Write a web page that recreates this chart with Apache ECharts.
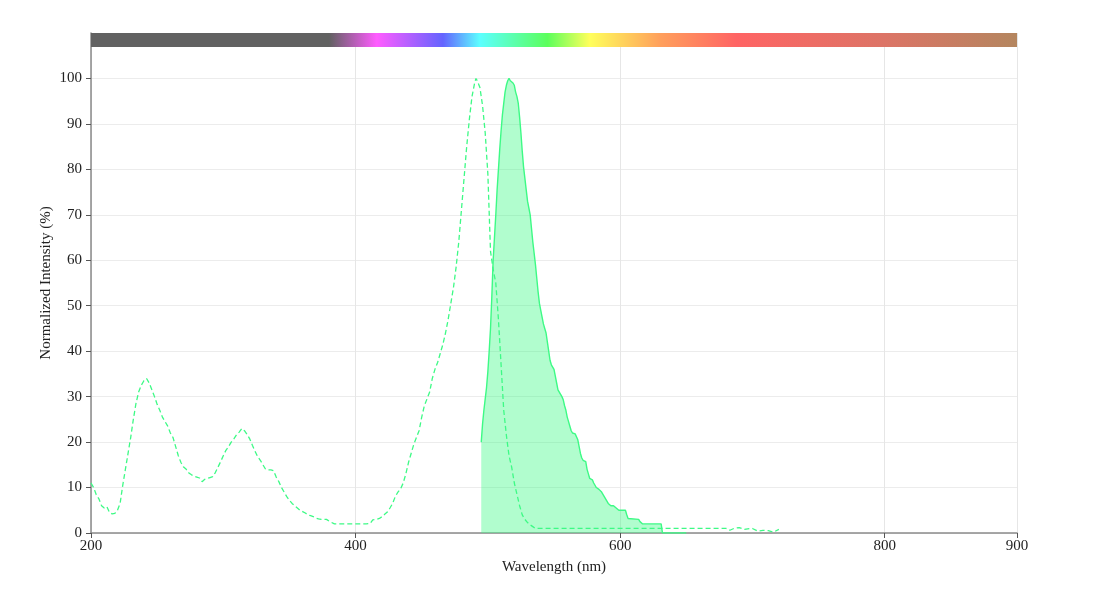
<!DOCTYPE html>
<html>
<head>
<meta charset="utf-8">
<script src="https://cdn.jsdelivr.net/npm/echarts@6/dist/echarts.min.js"></script>
<style>
  html, body { margin: 0; padding: 0; background: #fff; }
  #chart { width: 1106px; height: 597px; }
</style>
</head>
<body>
<div id="chart"></div>
<script>
// ---- Data ----
const xTickLabels = [200, 400, 600, 800, 900];
const yTickValues = [0, 10, 20, 30, 40, 50, 60, 70, 80, 90, 100];

// Excitation spectrum (dashed)
const excitationNm = [200,202,204,206,208,210,212,214,216,218,220,222,224,226,228,230,232,234,236,238,240,242,244,246,248,250,252,254,256,258,260,262,264,266,268,270,272,274,276,278,280,282,284,286,288,290,292,294,296,298,300,302,304,306,308,310,312,314,316,318,320,322,324,326,328,330,332,334,336,338,340,342,344,346,348,350,352,354,356,358,360,362,364,366,368,370,372,374,376,378,380,384,390,396,400,404,408,411,413,416,418,420,422,424,426,428,430,432,434,436,438,440,442,444,446,448,450,452,454,456,458,460,462,464,466,468,470,472,474,476,478,480,482,484,486,488,490,491,492,494,496,498,500,502,504,506,508,510,512,514,516,518,520,522,524,526,528,530,532,534,536,560,600,640,680,683,686,690,694,698,700,704,708,712,716,720];
const excitationVal = [11,10,8.4,7.5,6,5.5,5.8,4.5,4.2,4.3,5,6.5,10.5,14,17.5,21,25,28.5,31,32.5,33.5,34,33,31.5,30,28.3,27,25.5,24.5,23.5,22,21,19,17,15.5,14.5,14,13.2,12.8,12.5,12.3,12.1,11.3,11.8,12,12.2,12.4,13.3,14.5,15.7,17,18.2,19,20,20.7,21.6,22.2,23,22.5,21.7,20.7,19.3,18,16.8,16,15,14,13.9,13.9,13.7,12.3,11.3,10,9,8,7.2,6.5,6,5.5,5,4.7,4.4,4,3.8,3.6,3.3,3.1,3,3,3,2.6,2,2,2,2,2,2,2.1,2.9,3,3.2,3.6,4.1,4.6,5.5,6.5,8,9,9.7,11,13,15.5,17.5,19.5,21,22.5,25.5,28,29.5,31,34,36,37.5,39.5,41.5,44,47,50.5,54,58.5,64,71,78,85,91,96,99,100,99.5,98,94,88,79,62,58,55,47,37,27,21.5,17,14.5,11,8.5,6,4,3,2.3,1.8,1.4,1,1,1,1,1,0.6,1,1.2,0.8,1,1,0.4,0.6,0.5,0.2,0.8];

// Emission spectrum (solid, filled)
const emissionNm = [495,496,497,498,499,500,501,502,503,504,505,506,507,508,509,510,511,512,513,514,515,516,517,518,519,520,521,522,523,524,525,526,527,528,529,530,531,532,533,534,535,536,537,538,539,540,541,542,543,544,545,546,547,548,549,550,551,552,553,554,555,556,557,558,559,560,561,562,563,564,565,566,567,568,569,570,571,572,573,574,575,576,577,578,579,580,581,582,583,584,585,586,587,588,589,590,591,592,593,594,595,596,597,598,599,604,605,606,607,614,615,616,617,631,632,650];
const emissionVal = [20,24,27,29.5,32,35.5,40,45,52,60,65,70,75.5,80,84.5,88.5,92,94.5,97,98.5,99.5,100,99.5,99.2,99,98.5,97,96,94.5,91.5,88,84,80.5,78,75.5,73,71.5,70,67,64,61.5,59,56,53,50.5,49,47.5,46,45,44,42,40,38,37,36.5,36,34.5,33,31.5,31,30.5,30,29.3,28,27,25.5,24.5,23.5,22.5,22,22,21.8,21.6,20.5,19,17.5,16.5,16,16,15.7,14,13,12,12,11.7,11,10.5,10,9.8,9.6,9.5,9,8.5,8,7.6,7,6.5,6.2,6,6,6,5.9,5.5,5.1,5,5,4,3.2,3,3,2.5,2.1,2,2,0,0];

// Spectrum colour bar stops (wavelength -> colour)
const barStopNm = [200, 380, 416, 466, 494, 545, 577, 630, 688, 800, 900];
const barStopColor = ['#616161', '#616161', '#ff5cff', '#6464ff', '#5cffff', '#5cff5c', '#ffff5c', '#ffa05c', '#ff6464', '#dc7466', '#b4865f'];

const xMin = 200, xMax = 900, yMin = 0, yMax = 110;

const excitation = excitationNm.map((n, i) => [n, excitationVal[i]]);
const emission = emissionNm.map((n, i) => [n, emissionVal[i]]);

const font = '"Liberation Serif", "DejaVu Serif", serif';
const lineColor = '#3dfa85';

const chart = echarts.init(document.getElementById('chart'), null, { renderer: 'canvas' });

const option = {
  animation: false,
  backgroundColor: '#ffffff',
  grid: { left: 91, right: 89, top: 33, bottom: 64, containLabel: false },
  xAxis: {
    type: 'value',
    min: xMin, max: xMax, interval: 200,
    name: 'Wavelength (nm)',
    nameLocation: 'middle',
    nameGap: 27,
    nameMoveOverlap: false,
    nameTextStyle: { fontFamily: font, fontSize: 15, color: '#222' },
    axisLine: { show: true, onZero: false, lineStyle: { color: '#8a8a8a', width: 1.5 } },
    axisTick: { show: true, length: 5, lineStyle: { color: '#555' } },
    axisLabel: { fontFamily: font, fontSize: 15, color: '#222', margin: 6,
                 formatter: v => (xTickLabels.indexOf(v) >= 0 ? String(v) : '') },
    splitLine: { show: true, lineStyle: { color: '#e6e6e6', width: 1 } }
  },
  yAxis: {
    type: 'value',
    min: yMin, max: yMax, interval: 10,
    name: 'Normalized Intensity (%)',
    nameLocation: 'middle',
    nameGap: 37,
    nameMoveOverlap: false,
    nameTextStyle: { fontFamily: font, fontSize: 15, color: '#222' },
    axisLine: { show: true, lineStyle: { color: '#8a8a8a', width: 1.5 } },
    axisTick: { show: true, length: 5, lineStyle: { color: '#555' }, customValues: yTickValues },
    axisLabel: { fontFamily: font, fontSize: 15, color: '#222', margin: 9, customValues: yTickValues },
    splitLine: { show: true, lineStyle: { color: '#ececec', width: 1 } }
  },
  series: [
    {
      name: 'Excitation',
      type: 'line',
      data: excitation,
      showSymbol: false,
      symbol: 'none',
      lineStyle: { color: lineColor, width: 1.3, type: [5, 3] },
      z: 3
    },
    {
      name: 'Emission',
      type: 'line',
      data: emission,
      showSymbol: false,
      symbol: 'none',
      lineStyle: { color: lineColor, width: 1.4 },
      areaStyle: { color: 'rgba(61,250,133,0.40)', opacity: 1, origin: 'start' },
      z: 2
    }
  ]
};

chart.setOption(option);

// Spectrum colour bar above the plot, positioned from the axis scales
const x0 = chart.convertToPixel({ xAxisIndex: 0 }, xMin);
const x1 = chart.convertToPixel({ xAxisIndex: 0 }, xMax);
const yTop = chart.convertToPixel({ yAxisIndex: 0 }, yMax);
const yBot = chart.convertToPixel({ yAxisIndex: 0 }, 106.9);
const stops = barStopNm.map((n, i) => ({ offset: (n - xMin) / (xMax - xMin), color: barStopColor[i] }));
chart.setOption({
  graphic: [{
    type: 'rect',
    shape: { x: x0, y: yTop, width: x1 - x0, height: yBot - yTop },
    style: { fill: new echarts.graphic.LinearGradient(0, 0, 1, 0, stops) },
    z: 100
  }]
});
</script>
</body>
</html>
